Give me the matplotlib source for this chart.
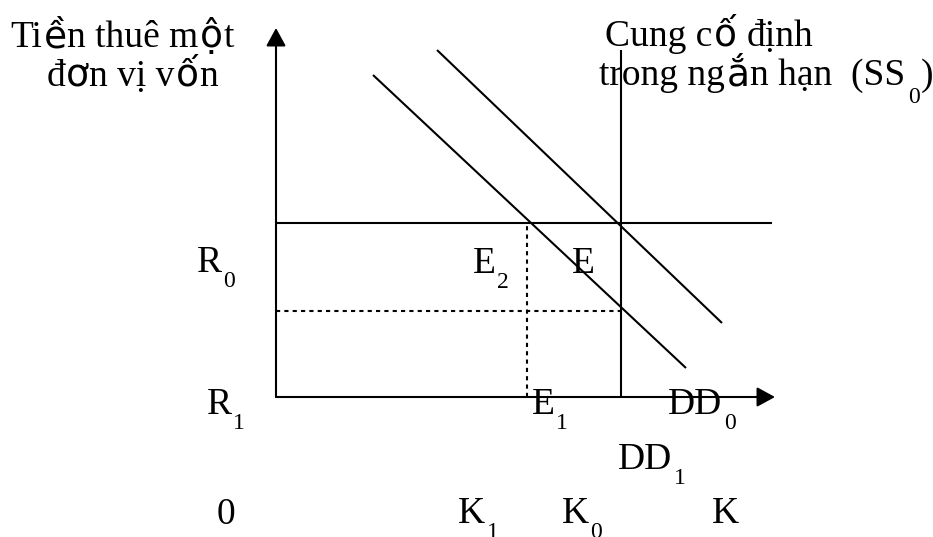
import matplotlib
matplotlib.use("Agg")
import matplotlib.pyplot as plt
from matplotlib import font_manager
from matplotlib.font_manager import FontProperties
from matplotlib.ft2font import FT2Font

DPI = 100
SERIF = "Liberation Serif"
SANS = "DejaVu Sans"
SIZE = 27
SUB_SIZE = 17
SUB_DROP = 15

# chart units: origin at the corner of the two axes, 1 unit = 1 px
R0 = 174
R1 = 86
K1 = 251
K0 = 345

AXIS_TOP = 369
AXIS_RIGHT = 499
R0_LINE_END = 496
SS0_TOP = 347

# demand curves, two end points each
DD0_X = [161, 446]
DD0_Y = [347, 74]
DD1_X = [97, 410]
DD1_Y = [322, 29]

# the vietnamese titles mix a serif face with a sans one for some accents
Y_TITLE = [
    [("Ti", SERIF), ("ề", SANS), ("n thuê m", SERIF), ("ộ", SANS), ("t", SERIF)],
    [("đ", SERIF), ("ơ", SANS), ("n vị v", SERIF), ("ố", SANS), ("n", SERIF)],
]
SS_TITLE = [
    [("Cung c", SERIF), ("ố", SANS), (" định", SERIF)],
    [("trong ng", SERIF), ("ắ", SANS), ("n hạn  (SS", SERIF)],
]

_fonts = {}


def advance(text, family, size):
    """Pen advance of text in pixels."""
    key = (family, size)
    if key not in _fonts:
        path = font_manager.findfont(FontProperties(family=family))
        ft = FT2Font(path, hinting_factor=1)
        ft.set_size(size, DPI)
        _fonts[key] = ft
    ft = _fonts[key]
    return sum(ft.load_char(ord(c)).linearHoriAdvance / 65536 for c in text)


def draw_runs(ax, x, y, runs, size=SIZE):
    for s, fam in runs:
        lead = len(s) - len(s.lstrip())
        ax.text(x + advance(s[:lead], fam, size), y, s.lstrip(), family=fam,
                fontsize=size, ha="left", va="baseline")
        x += advance(s, fam, size)
    return x


def label(ax, x, y, main, sub=None):
    ax.text(x, y, main, family=SERIF, fontsize=SIZE, ha="left", va="baseline")
    if sub is not None:
        xs = x + advance(main, SERIF, SIZE) + 1
        ax.text(xs, y - SUB_DROP, sub, family=SERIF, fontsize=SUB_SIZE,
                ha="left", va="baseline")


fig = plt.figure(figsize=(933 / DPI, 537 / DPI), dpi=DPI, facecolor="white")
ax = fig.add_axes([0, 0, 1, 1])
ax.set_xlim(-276, 657)
ax.set_ylim(-140, 397)
ax.axis("off")

line_kw = dict(color="black", lw=1.5, solid_capstyle="butt")
dot_kw = dict(color="black", lw=1.5, linestyle=(0, (2, 2)))
arrow_kw = dict(arrowstyle="-|>,head_length=0.55,head_width=0.3", color="black",
                lw=1.5, mutation_scale=20, shrinkA=0, shrinkB=0)

# axes with arrow heads
ax.annotate("", xy=(0, AXIS_TOP), xytext=(0, 0), arrowprops=arrow_kw)
ax.annotate("", xy=(AXIS_RIGHT, 0), xytext=(0, 0), arrowprops=arrow_kw)

# rent R0 and fixed supply SS0
ax.plot([0, R0_LINE_END], [R0, R0], **line_kw)
ax.plot([K0, K0], [0, SS0_TOP], **line_kw)

# guides
ax.plot([0, K0], [R1, R1], **dot_kw)
ax.plot([K1, K1], [0, R0], **dot_kw)

# demand curves
ax.plot(DD0_X, DD0_Y, **line_kw)
ax.plot(DD1_X, DD1_Y, **line_kw)

# titles
draw_runs(ax, -266, 350, Y_TITLE[0])
draw_runs(ax, -229, 311, Y_TITLE[1])
draw_runs(ax, 329, 351, SS_TITLE[0])
xe = draw_runs(ax, 323, 312, SS_TITLE[1])
ax.text(xe + 1, 312 - 18, "0", family=SERIF, fontsize=SUB_SIZE,
        ha="left", va="baseline")
ax.text(xe + 1 + advance("0", SERIF, SUB_SIZE), 312, ")", family=SERIF,
        fontsize=SIZE, ha="left", va="baseline")

# point labels
label(ax, -79, 125, "R", "0")
label(ax, -69, -17, "R", "1")
label(ax, 197, 124, "E", "2")
label(ax, 296, 124, "E")
label(ax, 256, -17, "E", "1")
label(ax, 392, -17, "DD", "0")
label(ax, 342, -72, "DD", "1")
label(ax, -59, -127, "0")
label(ax, 182, -126, "K", "1")
label(ax, 286, -126, "K", "0")
label(ax, 436, -126, "K")

fig.savefig("out.png", dpi=DPI, facecolor="white")
